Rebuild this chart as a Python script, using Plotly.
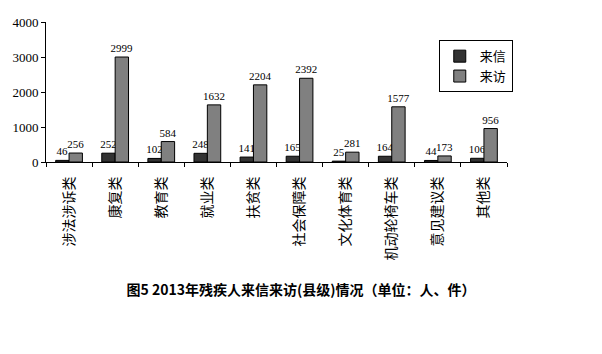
import plotly.graph_objects as go

categories = ["涉法涉诉类", "康复类", "教育类", "就业类", "扶贫类", "社会保障类",
              "文化体育类", "机动轮椅车类", "意见建议类", "其他类"]
letters = [46, 252, 102, 248, 141, 165, 25, 164, 44, 106]
visits = [256, 2999, 584, 1632, 2204, 2392, 281, 1577, 173, 956]
series_names = ["来信", "来访"]
y_ticks = [0, 1000, 2000, 3000, 4000]

axis_font = dict(family="Liberation Serif, serif", size=13, color="black")
label_font = dict(family="Liberation Serif, serif", size=11, color="black")

fig = go.Figure()
fig.add_trace(go.Bar(
    x=categories, y=letters, name=series_names[0],
    marker=dict(color="#333333", line=dict(color="black", width=1)),
    text=[str(v) for v in letters], textposition="outside",
    textfont=label_font, cliponaxis=False, constraintext="none",
))
fig.add_trace(go.Bar(
    x=categories, y=visits, name=series_names[1],
    marker=dict(color="#808080", line=dict(color="black", width=1)),
    text=[str(v) for v in visits], textposition="outside",
    textfont=label_font, cliponaxis=False, constraintext="none",
))

fig.update_layout(
    width=602, height=354,
    margin=dict(l=41, r=95, t=22, b=192),
    paper_bgcolor="white", plot_bgcolor="white",
    barmode="group", bargap=0.42, bargroupgap=0,
    showlegend=True,
    legend=dict(
        x=0.852, y=0.87, xanchor="left", yanchor="top",
        bordercolor="black", borderwidth=1, bgcolor="white",
        font=dict(family="Noto Sans CJK SC", size=13, color="black"),
        itemwidth=30, tracegroupgap=0,
    ),
    title=dict(
        text="<b>图5 2013年残疾人来信来访(县级)情况（单位：人、件）</b>",
        x=0.5, xref="container", y=1 - 290 / 354, yref="container",
        xanchor="center", yanchor="middle",
        font=dict(family="Noto Sans CJK SC", size=14, color="black"),
    ),
)

fig.update_xaxes(
    showline=True, linecolor="black", linewidth=1,
    ticks="outside", ticklen=4, tickcolor="black", tickson="boundaries",
    tickangle=-90, ticklabelstandoff=8,
    tickfont=dict(family="Noto Sans CJK SC", size=14, color="black"),
    showgrid=False,
)
fig.update_yaxes(
    range=[0, 4000], tickvals=y_ticks,
    showline=True, linecolor="black", linewidth=1,
    ticks="outside", ticklen=4, tickcolor="black",
    tickfont=axis_font, showgrid=False, zeroline=False,
)

fig.write_html("out.html")
